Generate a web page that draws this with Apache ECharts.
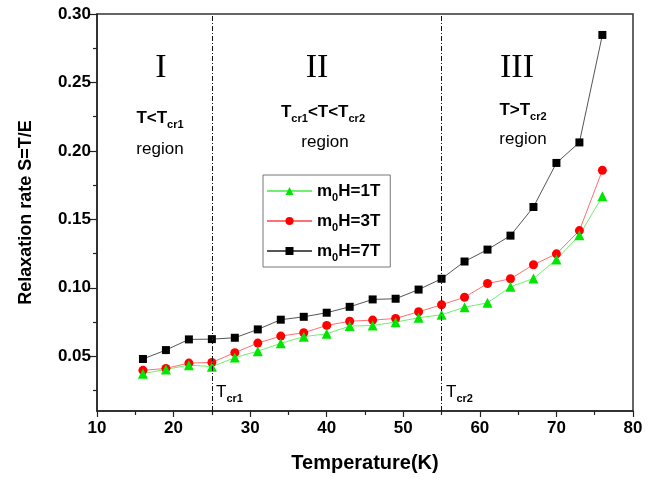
<!DOCTYPE html>
<html>
<head>
<meta charset="utf-8">
<script src="https://cdn.jsdelivr.net/npm/echarts@6/dist/echarts.min.js"></script>
<style>
html, body { margin: 0; padding: 0; background: #fff; }
#main { width: 654px; height: 478px; }
</style>
</head>
<body>
<div id="main"></div>
<script>
// temperature (K)
var temps = [16, 19, 22, 25, 28, 31, 34, 37, 40, 43, 46, 49, 52, 55, 58, 61, 64, 67, 70, 73, 76];
// relaxation rate per field
var s1T = [0.0373, 0.0404, 0.0435, 0.0424, 0.049, 0.0537, 0.0594, 0.0643, 0.0664, 0.072, 0.0725, 0.0749, 0.0781, 0.0803, 0.0858, 0.089, 0.1007, 0.1068, 0.1206, 0.1384, 0.1668];
var s3T = [0.0397, 0.0411, 0.045, 0.0455, 0.0526, 0.0596, 0.0647, 0.0672, 0.0725, 0.0756, 0.0764, 0.0776, 0.0825, 0.0876, 0.0931, 0.1031, 0.1066, 0.1168, 0.1248, 0.1418, 0.1858];
var s7T = [0.048, 0.0545, 0.0623, 0.0625, 0.0635, 0.0696, 0.0767, 0.0788, 0.0818, 0.0861, 0.0915, 0.092, 0.0987, 0.1066, 0.1192, 0.1279, 0.1381, 0.159, 0.1912, 0.2062, 0.2847];
var seriesNames = ['m0H=1T', 'm0H=3T', 'm0H=7T'];
var yTicks = [0.05, 0.10, 0.15, 0.20, 0.25, 0.30];
var yMinor = [0.025, 0.075, 0.125, 0.175, 0.225, 0.275];
var tCrit = [25, 55];

var FONT = '"Liberation Sans", Arial, sans-serif';
var SERIF = '"Liberation Serif", "Times New Roman", serif';

function pairs(vals) {
    return temps.map(function (t, i) { return [t, vals[i]]; });
}

var subRich = {
    b: { fontSize: 17, fontWeight: 'bold', fontFamily: FONT, color: '#000', lineHeight: 20 },
    r: { fontSize: 17, fontFamily: FONT, color: '#000', lineHeight: 20 },
    s: { fontSize: 11, fontWeight: 'bold', fontFamily: FONT, color: '#000', lineHeight: 11, padding: [13, 0, 0, 0] }
};

function label(x, y, text, align) {
    return {
        type: 'text',
        style: {
            x: x, y: y, text: text, rich: subRich,
            align: align || 'center', verticalAlign: 'middle'
        }
    };
}
function plain(x, y, text, font) {
    return {
        type: 'text',
        style: { x: x, y: y, text: text, font: font, fill: '#000', align: 'center', verticalAlign: 'middle' }
    };
}

var myChart = echarts.init(document.getElementById('main'));
var axisLine = { lineStyle: { color: '#222', width: 1.5 } };

option = {
    animation: false,
    backgroundColor: '#fff',
    grid: { left: 97, right: 21, top: 14, bottom: 66, show: true, borderColor: '#333', borderWidth: 1.5 },
    legend: {
        orient: 'vertical',
        left: 263, top: 175,
        data: seriesNames,
        itemWidth: 45, itemHeight: 10, itemGap: 6,
        padding: [4, 10, 4, 3],
        borderColor: '#777', borderWidth: 1,
        formatter: function (n) { return '{b|m}{s|0}{b|' + n.slice(2) + '}'; },
        textStyle: { rich: subRich }
    },
    xAxis: {
        type: 'value', min: 10, max: 80, interval: 10,
        axisLine: axisLine,
        axisTick: { length: 6, lineStyle: { color: '#222', width: 1.2 } },
        minorTick: { show: true, splitNumber: 2, length: 4, lineStyle: { color: '#222', width: 1.2 } },
        splitLine: { show: false },
        axisLabel: { fontSize: 17, fontWeight: 'bold', fontFamily: FONT, color: '#000', margin: 9 },
        name: 'Temperature(K)', nameLocation: 'middle', nameGap: 42,
        nameTextStyle: { fontSize: 20, fontWeight: 'bold', fontFamily: FONT, color: '#000' }
    },
    yAxis: [{
        type: 'value', min: 0.01, max: 0.30,
        axisLine: axisLine,
        axisTick: { length: 7, customValues: yTicks, lineStyle: { color: '#222', width: 1.2 } },
        splitLine: { show: false },
        axisLabel: {
            customValues: yTicks, fontSize: 17, fontWeight: 'bold', fontFamily: FONT, color: '#000', margin: 6,
            formatter: function (v) { return v.toFixed(2); }
        },
        name: 'Relaxation rate S=T/E', nameLocation: 'middle', nameGap: 62,
        nameTextStyle: { fontSize: 18, fontWeight: 'bold', fontFamily: FONT, color: '#000' }
    }, {
        type: 'value', min: 0.01, max: 0.30, position: 'left',
        axisLine: { show: false },
        axisTick: { show: true, length: 4, customValues: yMinor, lineStyle: { color: '#222', width: 1.2 } },
        axisLabel: { show: false },
        splitLine: { show: false }
    }],
    series: [
        {
            name: seriesNames[2], type: 'line', data: pairs(s7T),
            symbol: 'rect', symbolSize: 8,
            itemStyle: { color: '#000' },
            lineStyle: { color: '#555', width: 1 },
            markLine: {
                silent: true, symbol: 'none', label: { show: false },
                lineStyle: { color: '#111', width: 1, type: [5, 2, 1, 2] },
                data: tCrit.map(function (t) { return { xAxis: t }; })
            }
        },
        {
            name: seriesNames[1], type: 'line', data: pairs(s3T),
            symbol: 'circle', symbolSize: 9,
            itemStyle: { color: '#ff0000' },
            lineStyle: { color: '#ff7070', width: 1 }
        },
        {
            name: seriesNames[0], type: 'line', data: pairs(s1T),
            symbol: 'triangle', symbolSize: 10,
            itemStyle: { color: '#00e600' },
            lineStyle: { color: '#70f070', width: 1 }
        }
    ],
    graphic: [
        plain(161, 68, 'I', '34px ' + SERIF),
        plain(317, 68, 'II', '34px ' + SERIF),
        plain(517, 68, 'III', '34px ' + SERIF),
        label(160, 118, '{b|T<T}{s|cr1}'),
        plain(160, 149, 'region', '17px ' + FONT),
        label(323, 112, '{b|T}{s|cr1}{b|<T<T}{s|cr2}'),
        plain(325, 142, 'region', '17px ' + FONT),
        label(523, 110, '{b|T>T}{s|cr2}'),
        plain(523, 139, 'region', '17px ' + FONT),
        label(216, 392, '{r|T}{s|cr1}', 'left'),
        label(446, 392, '{r|T}{s|cr2}', 'left')
    ]
};
myChart.setOption(option);
</script>
</body>
</html>
